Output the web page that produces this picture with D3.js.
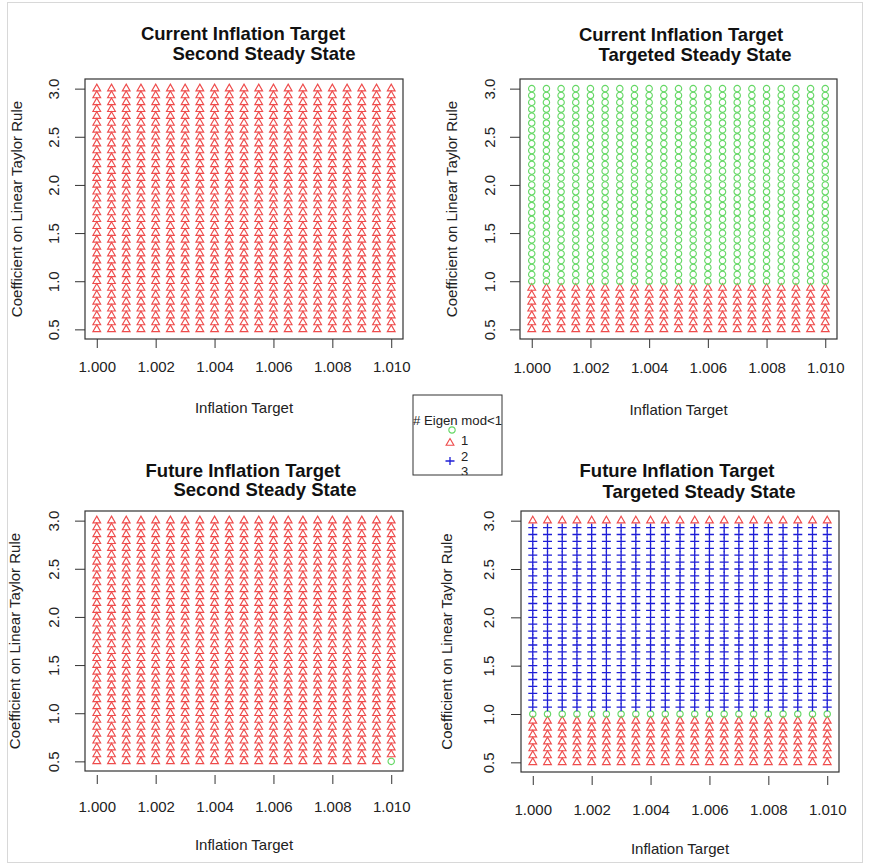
<!DOCTYPE html>
<html>
<head>
<meta charset="utf-8">
<script src="https://cdn.jsdelivr.net/npm/d3@7"></script>
<style>
  body { margin: 0; background: #fff; }
  svg { display: block; font-family: 'Liberation Sans', Arial, sans-serif; }
</style>
</head>
<body>
<div id="chart"></div>
<script>
// Grid of inflation targets (x) and Taylor rule coefficients (y)
const inflationTargets = [1.0000, 1.0005, 1.0010, 1.0015, 1.0020, 1.0025, 1.0030, 1.0035, 1.0040, 1.0045, 1.0050,
                          1.0055, 1.0060, 1.0065, 1.0070, 1.0075, 1.0080, 1.0085, 1.0090, 1.0095, 1.0100];
const taylorCoefs = [0.500, 0.571, 0.643, 0.714, 0.786, 0.857, 0.929, 1.000, 1.071, 1.143, 1.214, 1.286,
                     1.357, 1.429, 1.500, 1.571, 1.643, 1.714, 1.786, 1.857, 1.929, 2.000, 2.071, 2.143,
                     2.214, 2.286, 2.357, 2.429, 2.500, 2.571, 2.643, 2.714, 2.786, 2.857, 2.929, 3.000];

// Marker per coefficient row, bottom (0.5) to top (3.0): o = circle, t = triangle, p = plus
const rowsCurrentSecond   = 'tttttttttttttttttttttttttttttttttttt';
const rowsCurrentTargeted = 'tttttttooooooooooooooooooooooooooooo';
const rowsFutureSecond    = 'tttttttttttttttttttttttttttttttttttt';
const rowsFutureTargeted  = 'tttttttoppppppppppppppppppppppppppptt';
// single cells that differ from their row
const futureSecondExceptions = [{x: 1.0100, y: 0.500, kind: 'o'}];

const titlesLine1 = ['Current Inflation Target', 'Current Inflation Target', 'Future Inflation Target', 'Future Inflation Target'];
const titlesLine2 = ['Second Steady State', 'Targeted Steady State', 'Second Steady State', 'Targeted Steady State'];
const xTickValues = [1.000, 1.002, 1.004, 1.006, 1.008, 1.010];
const xTickLabels = ['1.000', '1.002', '1.004', '1.006', '1.008', '1.010'];
const yTickValues = [0.5, 1.0, 1.5, 2.0, 2.5, 3.0];
const yTickLabels = ['0.5', '1.0', '1.5', '2.0', '2.5', '3.0'];
const xTitle = 'Inflation Target';
const yTitle = 'Coefficient on Linear Taylor Rule';

const legendTitle = '# Eigen mod<1';
const legendKinds = ['o', 't', 'p'];
const legendLabels = ['1', '2', '3'];

const panelRows = [rowsCurrentSecond, rowsCurrentTargeted, rowsFutureSecond, rowsFutureTargeted];
const panelExceptions = [[], [], futureSecondExceptions, []];

// Panel geometry (pixels)
const layout = [
    {left: 85, right: 403, top: 79, bottom: 339, tickGap: 0, xLabY: 372, xTitleY: 413, yLabX: 59, yTitleX: 22, t1x: 243, t2x: 264, t1y: 40, t2y: 60},
    {left: 520, right: 837, top: 79, bottom: 339, tickGap: 0, xLabY: 373, xTitleY: 415, yLabX: 495, yTitleX: 457, t1x: 681, t2x: 695, t1y: 41, t2y: 61},
    {left: 85, right: 403, top: 511, bottom: 771, tickGap: 4, xLabY: 812, xTitleY: 850, yLabX: 59, yTitleX: 20, t1x: 243, t2x: 265, t1y: 477, t2y: 496},
    {left: 521, right: 839, top: 511, bottom: 772, tickGap: 4, xLabY: 815, xTitleY: 854, yLabX: 494, yTitleX: 452, t1x: 677, t2x: 699, t1y: 477, t2y: 498}
];

const colors = {o: '#66d866', t: '#ee4c4c', p: '#1e1ed6'};

const svgWidth = 870;
const svgHeight = 867;

const svg = d3.select('#chart')
    .append('svg')
    .attr('width', svgWidth)
    .attr('height', svgHeight);

// faint frame around the whole picture
svg.append('rect')
    .attr('x', 7.5).attr('y', 2.5)
    .attr('width', 855).attr('height', 860)
    .attr('fill', 'none')
    .attr('stroke', '#d8d8d8');

// Draw one marker
function drawMark(g, kind, x, y) {
    if (kind === 'p') {
        g.append('path')
            .attr('d', `M${x - 4.5},${y}H${x + 4.5}M${x},${y - 4}V${y + 4}`)
            .attr('stroke', colors.p)
            .attr('stroke-width', 1.3)
            .attr('fill', 'none');
    } else {
        const sym = kind === 'o' ? d3.symbol(d3.symbolCircle, 32) : d3.symbol(d3.symbolTriangle, 26);
        g.append('path')
            .attr('d', sym())
            .attr('transform', `translate(${x},${y})`)
            .attr('stroke', colors[kind])
            .attr('stroke-width', 1.15)
            .attr('fill', 'none');
    }
}

layout.forEach((p, i) => {
    const g = svg.append('g');

    // R style 4% padding on both axes
    const xPad = (1.010 - 1.000) * 0.04;
    const yPad = (3.0 - 0.5) * 0.04;
    const xScale = d3.scaleLinear()
        .domain([1.000 - xPad, 1.010 + xPad])
        .range([p.left, p.right]);
    const yScale = d3.scaleLinear()
        .domain([0.5 - yPad, 3.0 + yPad])
        .range([p.bottom, p.top]);

    // points
    const marks = g.append('g');
    const rows = panelRows[i];
    taylorCoefs.forEach((c, r) => {
        inflationTargets.forEach(t => {
            const exc = panelExceptions[i].find(e => e.x === t && e.y === c);
            const kind = exc ? exc.kind : rows[r];
            drawMark(marks, kind, xScale(t), yScale(c));
        });
    });

    // box
    g.append('rect')
        .attr('x', p.left).attr('y', p.top)
        .attr('width', p.right - p.left).attr('height', p.bottom - p.top)
        .attr('fill', 'none')
        .attr('stroke', '#333')
        .attr('stroke-width', 1.2);

    // x axis
    const xAxis = d3.axisBottom(xScale)
        .tickValues(xTickValues)
        .tickFormat((d, k) => xTickLabels[k])
        .tickSize(9)
        .tickSizeOuter(0)
        .tickPadding(p.xLabY - p.bottom - p.tickGap - 9 - 10.6);
    const xg = g.append('g')
        .attr('transform', `translate(0, ${p.bottom + p.tickGap})`)
        .call(xAxis);
    xg.select('.domain').remove();
    xg.selectAll('line').attr('stroke', '#333');
    xg.selectAll('text').attr('font-size', 15).attr('fill', '#222').attr('font-family', null);

    // y axis, labels turned like R's las=0
    const yAxis = d3.axisLeft(yScale)
        .tickValues(yTickValues)
        .tickFormat((d, k) => yTickLabels[k])
        .tickSize(10)
        .tickSizeOuter(0);
    const yg = g.append('g')
        .attr('transform', `translate(${p.left}, 0)`)
        .call(yAxis);
    yg.select('.domain').remove();
    yg.selectAll('line').attr('stroke', '#333');
    yg.selectAll('text')
        .attr('font-size', 15).attr('fill', '#222').attr('font-family', null)
        .attr('transform', 'rotate(-90)')
        .attr('text-anchor', 'middle')
        .attr('x', 0)
        .attr('dy', 0)
        .attr('y', -(p.left - p.yLabX));

    // axis titles
    g.append('text')
        .attr('x', (p.left + p.right) / 2)
        .attr('y', p.xTitleY)
        .attr('text-anchor', 'middle')
        .attr('font-size', 15)
        .attr('fill', '#222')
        .text(xTitle);
    g.append('text')
        .attr('transform', `translate(${p.yTitleX}, ${(p.top + p.bottom) / 2}) rotate(-90)`)
        .attr('text-anchor', 'middle')
        .attr('font-size', 15)
        .attr('fill', '#222')
        .text(yTitle);

    // two line title
    g.append('text')
        .attr('x', p.t1x).attr('y', p.t1y)
        .attr('text-anchor', 'middle')
        .attr('font-size', 18.5)
        .attr('font-weight', 'bold')
        .attr('fill', '#111')
        .text(titlesLine1[i]);
    g.append('text')
        .attr('x', p.t2x).attr('y', p.t2y)
        .attr('text-anchor', 'middle')
        .attr('font-size', 18.5)
        .attr('font-weight', 'bold')
        .attr('fill', '#111')
        .text(titlesLine2[i]);
});

// Legend in the middle
const legendBox = {x: 413, y: 395, w: 89, h: 80};
svg.append('clipPath')
    .attr('id', 'legend-clip')
    .append('rect')
    .attr('x', legendBox.x - 2).attr('y', legendBox.y)
    .attr('width', legendBox.w + 4).attr('height', legendBox.h);

const legend = svg.append('g');
const legendInner = legend.append('g').attr('clip-path', 'url(#legend-clip)');
legendInner.append('text')
    .attr('x', legendBox.x + legendBox.w / 2)
    .attr('y', 425)
    .attr('text-anchor', 'middle')
    .attr('font-size', 13.2)
    .attr('fill', '#222')
    .text(legendTitle);

const legendSymbolY = [430, 443, 461];
const legendSymbolX = [452, 450, 450];
const legendLabelY = [445, 461, 475.5];
legendKinds.forEach((k, j) => drawMark(legendInner, k, legendSymbolX[j], legendSymbolY[j]));
legendLabels.forEach((l, j) => {
    legendInner.append('text')
        .attr('x', 461)
        .attr('y', legendLabelY[j])
        .attr('font-size', 13)
        .attr('fill', '#222')
        .text(l);
});
legend.append('rect')
    .attr('x', legendBox.x).attr('y', legendBox.y)
    .attr('width', legendBox.w).attr('height', legendBox.h)
    .attr('fill', 'none')
    .attr('stroke', '#333');
</script>
</body>
</html>
